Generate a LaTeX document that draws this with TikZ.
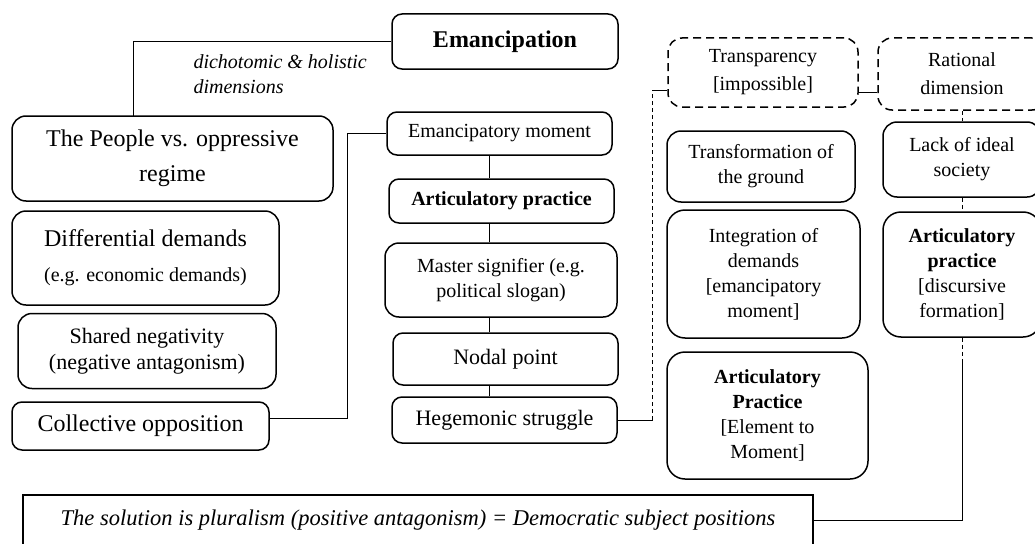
\documentclass[tikz,border=0pt]{standalone}
\usepackage{fontspec}
\setmainfont{Liberation Serif}
\newcommand\szbig{\fontsize{24}{35}\selectfont}
\newcommand\szmed{\fontsize{22}{26}\selectfont}
\newcommand\szmid{\fontsize{20}{25}\selectfont}
\newcommand\szloose{\fontsize{20}{28}\selectfont}
\newcommand\szsol{\fontsize{22.5}{27}\selectfont}
\begin{document}
\begin{tikzpicture}
[x=1pt,y=-1pt,%
  box/.style={draw,line width=1.5pt,rounded corners=10pt,align=center,inner sep=0pt},
  dbox/.style={box,dash pattern=on 8pt off 5pt},
  link/.style={line width=0.8pt},
  thindash/.style={link,dash pattern=on 4pt off 3pt}]
\useasboundingbox (0,0) rectangle (1035,543);
\node[box,minimum width=226pt,minimum height=55pt,font=\szbig\bfseries] (eman) at (505,41.5) {Emancipation};
\node[font=\szmid\itshape,align=left,anchor=west] (dimlabel) at (190,74) {dichotomic \& holistic\\dimensions};
\node[box,rounded corners=14pt,minimum width=321pt,minimum height=85pt,font=\szbig] (people) at (172.5,158.5) {The People vs. oppressive\\regime};
\node[box,rounded corners=14pt,minimum width=267pt,minimum height=94pt,font=\szbig] (diff) at (145.5,258) {Differential demands\\{\szmid (e.g. economic demands)}};
\node[box,rounded corners=14pt,minimum width=258pt,minimum height=75pt,font=\szmed] (shared) at (147,351) {Shared negativity\\(negative antagonism)};
\node[box,minimum width=257pt,minimum height=48pt,font=\szbig] (coll) at (140.5,426) {Collective opposition};
\node[box,minimum width=225pt,minimum height=43pt,font=\szmid] (emom) at (499.5,133.5) {Emancipatory moment};
\node[box,minimum width=225pt,minimum height=44pt,font=\szmid\bfseries] (artic) at (501.5,201) {Articulatory practice};
\node[box,rounded corners=14pt,minimum width=232pt,minimum height=74pt,font=\szmid] (master) at (501,280) {Master signifier (e.g.\\political slogan)};
\node[box,minimum width=225pt,minimum height=52pt,font=\szmed] (nodal) at (505.5,359) {Nodal point};
\node[box,minimum width=225pt,minimum height=46pt,font=\szmed] (hegem) at (504.5,420) {Hegemonic struggle};
\node[dbox,rounded corners=14pt,minimum width=190pt,minimum height=69pt,font=\szloose] (transp) at (763,72.5) {Transparency\\{[impossible]}};
\node[dbox,rounded corners=14pt,minimum width=168pt,minimum height=72pt,font=\szloose] (ration) at (962,74) {Rational\\dimension};
\node[box,rounded corners=14pt,minimum width=188pt,minimum height=71pt,font=\szmid] (transf) at (761,166.5) {Transformation of\\the ground};
\node[box,rounded corners=18pt,minimum width=193pt,minimum height=128pt,font=\szmid] (integ) at (763.5,274) {Integration of\\demands\\{[emancipatory}\\moment]};
\node[box,rounded corners=18pt,minimum width=201pt,minimum height=127pt,font=\szmid] (artmom) at (767.5,415.5) {\textbf{Articulatory}\\\textbf{Practice}\\{[Element to}\\Moment]};
\node[box,rounded corners=14pt,minimum width=158pt,minimum height=75pt,font=\szmid] (lack) at (962,159.5) {Lack of ideal\\society};
\node[box,rounded corners=18pt,minimum width=158pt,minimum height=125pt,font=\szmid] (artdisc) at (962,274.5) {\textbf{Articulatory}\\\textbf{practice}\\{[discursive}\\formation]};
\node[draw,line width=1.5pt,minimum width=790pt,minimum height=50pt,font=\szsol\itshape] (sol) at (418,520) {The solution is pluralism (positive antagonism) = Democratic subject positions};
\coordinate (pk) at (133,116);
\coordinate (spine) at (489,0);
\coordinate (tk) at (0,90);
\coordinate (rk) at (0,92);
\draw[link] (eman.west) -| (pk);
\draw[link] ([yshift=8pt]coll.east) -- ++(78,0) |- (emom.west);
\foreach \a/\b in {emom/artic,artic/master,master/nodal,nodal/hegem}
  \draw[link] (\a.south -| spine) -- (\b.north -| spine);
\draw[link] (hegem.east) -- ++(35,0) coordinate (hk);
\draw[thindash] (hk) -- (hk |- tk);
\draw[link] (hk |- tk) -- (transp.west |- tk);
\draw[link] (transp.east |- rk) -- (ration.west |- rk);
\draw[thindash] (ration.south) -- (lack.north);
\draw[thindash] (lack.south) -- (artdisc.north);
\draw[thindash] (artdisc.south) -- ++(0,25) coordinate (dk);
\draw[link] (dk) |- (sol.east);
\end{tikzpicture}
\end{document}
